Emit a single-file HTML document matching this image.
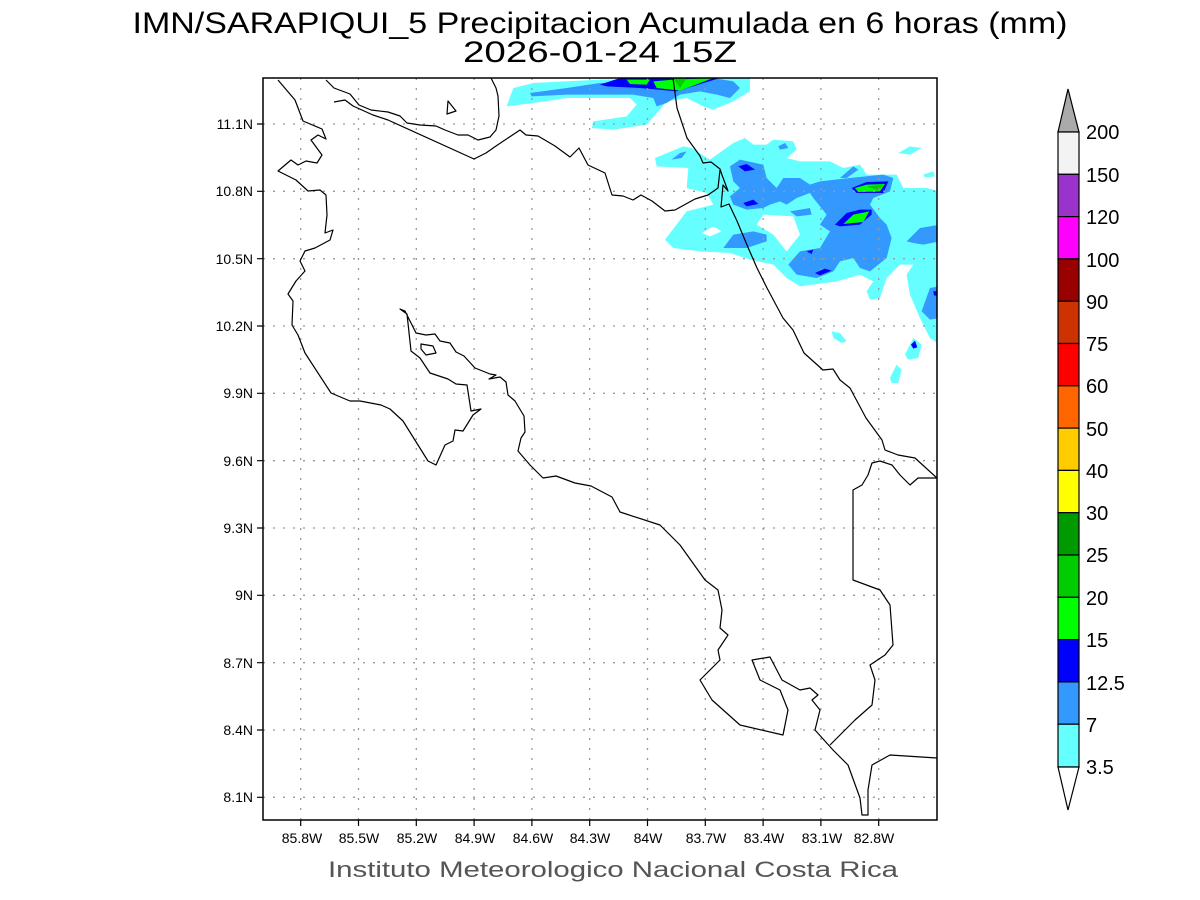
<!DOCTYPE html>
<html><head><meta charset="utf-8"><style>html,body{margin:0;padding:0;background:#fff}svg{display:block}</style></head>
<body>
<svg width="1200" height="900" viewBox="0 0 1200 900" xmlns="http://www.w3.org/2000/svg" font-family="'Liberation Sans', sans-serif">
<rect width="1200" height="900" fill="#fff"/>
<text x="600" y="33" font-size="30" text-anchor="middle" textLength="935" lengthAdjust="spacingAndGlyphs" fill="#000">IMN/SARAPIQUI_5 Precipitacion Acumulada en 6 horas (mm)</text>
<text x="600" y="62" font-size="30" text-anchor="middle" textLength="274" lengthAdjust="spacingAndGlyphs" fill="#000">2026-01-24 15Z</text>
<defs><clipPath id="c"><rect x="263" y="78" width="674" height="742"/></clipPath></defs>
<g clip-path="url(#c)">
<g transform="translate(500,78) scale(0.3333)">
<g fill="#66ffff">
<path d="M20,85 L40,30 L100,15 L300,5 L750,0 L750,40 L700,70 L640,95 L610,85 L560,60 L500,70 L480,95 L440,140 L340,155 L275,150 L280,130 L380,115 L410,80 L390,60 L200,60 L100,75Z"/>
<path d="M495,485 L560,400 L640,380 L620,345 L560,330 L565,270 L470,265 L465,240 L550,205 L575,210 L630,245 L700,195 L735,180 L760,200 L800,200 L820,185 L880,190 L890,215 L860,240 L900,250 L990,250 L1030,270 L1080,260 L1100,290 L1190,290 L1210,330 L1280,330 L1320,340 L1320,800 L1290,780 L1260,720 L1230,650 L1220,590 L1240,560 L1200,560 L1160,600 L1140,660 L1110,665 L1100,640 L1120,610 L1080,590 L1010,610 L900,625 L860,600 L820,560 L750,545 L690,525 L600,520 L520,510Z"/>
<path d="M1195,225 L1230,205 L1265,210 L1230,230Z"/>
<path d="M1270,290 L1300,280 L1305,295 L1275,298Z"/>
<path d="M995,760 L1020,765 L1040,790 L1025,795 L1000,780Z"/>
<path d="M1215,830 L1240,780 L1265,800 L1255,840 L1225,845Z"/>
<path d="M1170,900 L1190,860 L1205,875 L1195,915 L1175,915Z"/>
</g>
<g fill="#fff"><path d="M605,465 L640,445 L665,460 L630,475Z"/><path d="M790,410 L880,415 L900,470 L860,520 L820,470 L770,440Z"/><path d="M1080,530 L1110,500 L1120,520 L1090,540Z"/></g>
<g fill="#3399ff">
<path d="M90,45 L200,30 L300,15 L520,10 L640,0 L700,10 L720,30 L690,60 L650,50 L600,40 L540,50 L500,75 L470,85 L460,60 L400,50 L200,50 L95,55Z"/>
<path d="M515,245 L540,225 L560,220 L545,240Z"/>
<path d="M690,265 L720,245 L790,260 L800,300 L830,330 L850,300 L900,300 L930,320 L960,310 L1050,300 L1150,290 L1180,300 L1170,340 L1120,360 L1110,380 L1140,420 L1160,440 L1175,480 L1160,540 L1110,580 L1080,570 L1060,540 L1020,550 L1000,580 L950,600 L890,590 L865,560 L900,520 L960,510 L990,460 L960,440 L980,410 L940,360 L930,345 L890,360 L860,380 L840,370 L810,380 L790,390 L740,395 L700,380 L690,355 L720,330 L700,310Z"/>
<path d="M670,510 L700,470 L760,460 L800,470 L800,490 L740,510Z"/>
<path d="M1220,490 L1260,450 L1320,440 L1320,490 L1270,500 L1240,495Z"/>
<path d="M1265,700 L1290,630 L1320,625 L1320,720 L1290,725Z"/>
<path d="M870,400 L930,390 L935,410 L890,415Z"/>
<path d="M1020,300 L1060,265 L1075,275 L1040,300Z"/>
<path d="M835,205 L855,195 L865,210 L840,215Z"/>
</g>
<g fill="#0000ff">
<path d="M300,20 L360,0 L660,0 L530,40 L420,30 L320,25Z"/>
<path d="M715,265 L740,258 L765,275 L735,280Z"/>
<path d="M730,375 L760,365 L775,378 L740,385Z"/>
<path d="M920,520 L940,515 L935,528Z"/>
<path d="M945,585 L975,572 L995,578 L960,592Z"/>
<path d="M1233,800 L1245,788 L1252,808 L1240,812Z"/>
<path d="M1005,440 L1040,405 L1080,395 L1115,395 L1115,410 L1080,440 L1020,445Z"/>
<path d="M1055,330 L1100,312 L1165,310 L1150,345 L1070,345Z"/>
<path d="M1300,640 L1315,640 L1315,655 L1302,652Z"/>
</g>
<g fill="#00ff00">
<path d="M380,5 L450,5 L440,20 L390,18Z"/>
<path d="M460,10 L520,5 L640,0 L540,38 L470,30Z"/>
<path d="M1065,330 L1100,320 L1155,318 L1140,340 L1075,342Z"/>
<path d="M1030,438 L1060,410 L1108,400 L1090,432Z"/>
</g>
<path d="M520,0 L560,0 L540,30 Z M1100,325 L1150,320 L1135,338Z" fill="#00cc00"/>
</g>
<g stroke="#999" stroke-width="1.3" stroke-dasharray="2,8" fill="none">
<path d="M300.7,78V820M358.5,78V820M416.3,78V820M474.1,78V820M531.9,78V820M589.7,78V820M647.5,78V820M705.3,78V820M763.1,78V820M820.9,78V820M878.7,78V820"/>
<path d="M263,124H937M263,191.3H937M263,258.7H937M263,326H937M263,393.3H937M263,460.7H937M263,528H937M263,595.3H937M263,662.7H937M263,730H937M263,797.3H937"/>
</g>
<g stroke="#000" stroke-width="1.2" fill="none" stroke-linejoin="round">
<path d="M278,80 L295,100 L303,121 L322,129 L326,139 L318,135 L311,140 L322,155 L317,163 L306,161 L298,165 L291,160 L278,171 L296,180 L308,191 L320,190 L326,195 L327,215 L325,233 L333,230 L330,240 L315,248 L305,251 L300,261 L305,271 L296,281 L288,294 L293,301 L292,325 L298,335 L305,353 L331,393 L350,401 L360,401 L381,405 L390,409 L403,421 L428,461 L436,465 L445,445 L453,441 L455,430 L463,431 L473,415 L481,409 L471,411 L467,385 L456,384 L448,379 L430,373 L420,358 L411,351 L407,314 L400,309 L405,311 L416,333 L426,335 L435,334 L440,341 L450,343 L456,352 L464,356 L475,368 L490,374 L496,375 L489,379 L500,377 L506,382 L508,395 L515,401 L524,416 L525,432 L521,438 L518,451 L530,465 L543,478 L556,476 L575,483 L591,486 L612,497 L620,512 L660,525 L680,545 L705,580 L718,590 L722,610 L720,628 L728,635 L718,650 L720,660 L700,680 L712,700 L740,725 L783,735 L788,710 L780,690 L760,680 L752,660 L770,657 L782,680 L800,690 L810,688 L818,695 L812,700 L820,710 L815,730 L833,750 L848,765 L860,798 L862,815 L868,815 L868,790 L872,765 L890,755 L937,758"/>
<path d="M830,745 L855,720 L872,705 L875,680 L870,665 L885,655 L893,645 L890,605 L880,590 L853,580 L853,490 L862,485 L868,475 L872,463 L880,461 L892,465 L900,475 L910,485 L918,478 L937,478"/>
<path d="M673,78 L677,108 L687,138 L700,156 L703,163 L711,162 L720,169 L722,175 L728,191 L723,185 L721,207 L729,204 L737,221 L747,245 L757,268 L767,288 L783,318 L793,330 L804,353 L823,370 L833,369 L840,380 L850,388 L866,418 L882,440 L885,450 L898,455 L915,458 L937,478"/>
<path d="M326,80 L334,88 L350,94 L359,105 L371,110 L388,112 L400,116 L407,123 L420,125 L436,126 L445,130 L458,135 L468,135 L478,140 L490,137 L496,130 L499,116 L498,96 L496,88 L491,78"/>
<path d="M334,102 L345,100 L353,106 L373,115 L388,120 L474,159 L486,153 L496,146 L511,136 L520,130 L526,135 L538,136 L555,146 L570,157 L579,148 L588,165 L605,173 L612,195 L623,196 L633,200 L641,195 L652,201 L665,211 L675,210 L695,199 L708,195 L718,188 L720,170"/>
<path d="M448,101 L456,111 L447,114Z"/>
<path d="M421,344 L433,346 L436,353 L426,355 L421,349Z"/>
</g>
</g>
<rect x="263" y="78" width="674" height="742" fill="none" stroke="#000" stroke-width="1.5"/>
<g stroke="#000" stroke-width="1.2">
<path d="M257,124H263M257,191.3H263M257,258.7H263M257,326H263M257,393.3H263M257,460.7H263M257,528H263M257,595.3H263M257,662.7H263M257,730H263M257,797.3H263"/>
<path d="M300.7,820V826M358.5,820V826M416.3,820V826M474.1,820V826M531.9,820V826M589.7,820V826M647.5,820V826M705.3,820V826M763.1,820V826M820.9,820V826M878.7,820V826"/>
</g>
<g font-size="14" fill="#000" text-anchor="end">
<text x="253" y="129">11.1N</text><text x="253" y="196">10.8N</text><text x="253" y="264">10.5N</text><text x="253" y="331">10.2N</text><text x="253" y="398">9.9N</text><text x="253" y="466">9.6N</text><text x="253" y="533">9.3N</text><text x="253" y="600">9N</text><text x="253" y="668">8.7N</text><text x="253" y="735">8.4N</text><text x="253" y="802">8.1N</text>
</g>
<g font-size="14" fill="#000" text-anchor="middle">
<text x="302" y="843">85.8W</text><text x="359" y="843">85.5W</text><text x="417" y="843">85.2W</text><text x="475" y="843">84.9W</text><text x="533" y="843">84.6W</text><text x="590" y="843">84.3W</text><text x="648" y="843">84W</text><text x="706" y="843">83.7W</text><text x="764" y="843">83.4W</text><text x="822" y="843">83.1W</text><text x="874" y="843">82.8W</text>
</g>
<text x="613" y="877" font-size="22" text-anchor="middle" textLength="570" lengthAdjust="spacingAndGlyphs" fill="#555">Instituto Meteorologico Nacional Costa Rica</text>
<g stroke="#000" stroke-width="1.2">
<path d="M1058,132 L1068,89 L1079,132Z" fill="#aaaaaa"/>
<rect x="1058" y="132" width="21" height="42.3" fill="#f3f3f3"/>
<rect x="1058" y="174.3" width="21" height="42.3" fill="#9933cc"/>
<rect x="1058" y="216.6" width="21" height="42.3" fill="#ff00ff"/>
<rect x="1058" y="258.9" width="21" height="42.3" fill="#990000"/>
<rect x="1058" y="301.2" width="21" height="42.3" fill="#cc3300"/>
<rect x="1058" y="343.5" width="21" height="42.3" fill="#ff0000"/>
<rect x="1058" y="385.8" width="21" height="42.3" fill="#ff6600"/>
<rect x="1058" y="428.1" width="21" height="42.3" fill="#ffcc00"/>
<rect x="1058" y="470.4" width="21" height="42.3" fill="#ffff00"/>
<rect x="1058" y="512.7" width="21" height="42.3" fill="#009900"/>
<rect x="1058" y="555" width="21" height="42.3" fill="#00cc00"/>
<rect x="1058" y="597.3" width="21" height="42.3" fill="#00ff00"/>
<rect x="1058" y="639.6" width="21" height="42.3" fill="#0000ff"/>
<rect x="1058" y="681.9" width="21" height="42.3" fill="#3399ff"/>
<rect x="1058" y="724.2" width="21" height="42.8" fill="#66ffff"/>
<path d="M1058,767 L1068,810 L1079,767Z" fill="#fff"/>
</g>
<g font-size="20" fill="#000">
<text x="1086" y="139">200</text><text x="1086" y="182">150</text><text x="1086" y="224">120</text><text x="1086" y="267">100</text><text x="1086" y="309">90</text><text x="1086" y="351">75</text><text x="1086" y="393">60</text><text x="1086" y="436">50</text><text x="1086" y="478">40</text><text x="1086" y="520">30</text><text x="1086" y="562">25</text><text x="1086" y="605">20</text><text x="1086" y="647">15</text><text x="1086" y="690">12.5</text><text x="1086" y="732">7</text><text x="1086" y="774">3.5</text>
</g>
</svg>
</body></html>
